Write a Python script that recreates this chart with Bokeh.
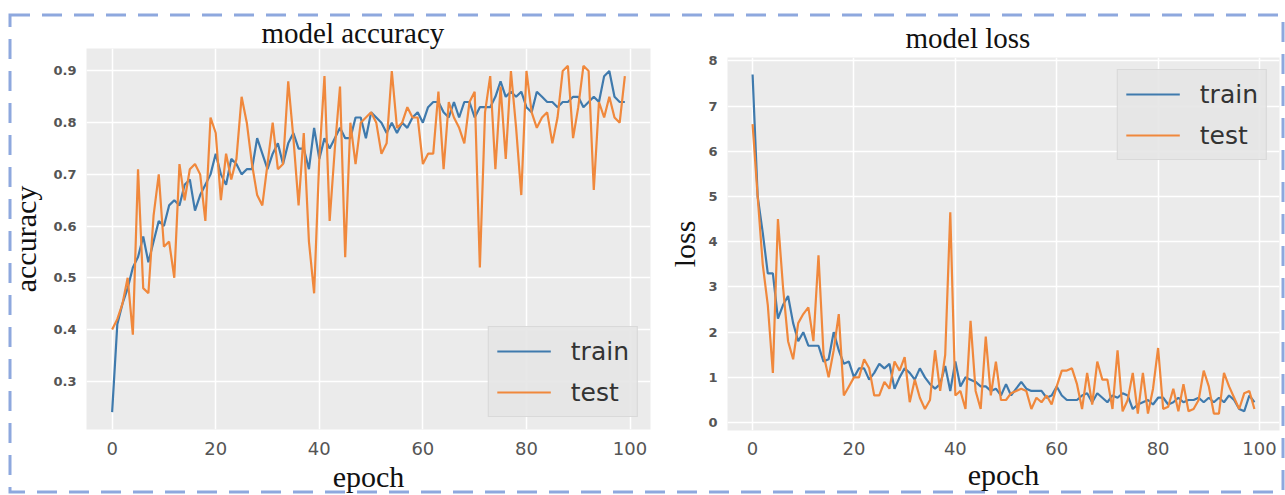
import urllib.parse
from bokeh.plotting import figure
from bokeh.layouts import row
from bokeh.models import Range1d, Legend, LegendItem, FixedTicker
from bokeh.embed import file_html
from bokeh.resources import INLINE

epochs = list(range(100))

acc_train = [0.24, 0.41, 0.45, 0.48, 0.52, 0.54, 0.58, 0.53, 0.57, 0.61,
             0.60, 0.64, 0.65, 0.64, 0.68, 0.69, 0.63, 0.66, 0.68, 0.70,
             0.74, 0.70, 0.68, 0.73, 0.72, 0.70, 0.71, 0.71, 0.77, 0.74,
             0.71, 0.74, 0.76, 0.72, 0.76, 0.78, 0.75, 0.75, 0.71, 0.79,
             0.73, 0.77, 0.75, 0.77, 0.79, 0.77, 0.77, 0.81, 0.81, 0.77,
             0.82, 0.81, 0.80, 0.78, 0.80, 0.78, 0.80, 0.79, 0.81, 0.82,
             0.80, 0.83, 0.84, 0.84, 0.82, 0.81, 0.84, 0.81, 0.84, 0.84,
             0.81, 0.83, 0.83, 0.83, 0.85, 0.88, 0.85, 0.86, 0.85, 0.86,
             0.83, 0.82, 0.86, 0.85, 0.84, 0.84, 0.83, 0.84, 0.84, 0.85,
             0.85, 0.83, 0.84, 0.85, 0.84, 0.89, 0.90, 0.85, 0.84, 0.84]

acc_test = [0.40, 0.42, 0.45, 0.50, 0.39, 0.71, 0.48, 0.47, 0.62, 0.70,
            0.56, 0.57, 0.50, 0.72, 0.65, 0.71, 0.72, 0.70, 0.61, 0.81,
            0.78, 0.65, 0.74, 0.69, 0.73, 0.85, 0.80, 0.72, 0.66, 0.64,
            0.72, 0.80, 0.71, 0.72, 0.88, 0.77, 0.64, 0.78, 0.57, 0.47,
            0.73, 0.89, 0.61, 0.75, 0.87, 0.54, 0.80, 0.72, 0.80, 0.81,
            0.82, 0.80, 0.74, 0.76, 0.90, 0.79, 0.80, 0.83, 0.81, 0.81,
            0.72, 0.74, 0.74, 0.86, 0.71, 0.84, 0.81, 0.79, 0.76, 0.84,
            0.86, 0.52, 0.82, 0.89, 0.71, 0.87, 0.73, 0.90, 0.79, 0.66,
            0.90, 0.82, 0.79, 0.81, 0.82, 0.76, 0.81, 0.90, 0.91, 0.77,
            0.83, 0.91, 0.90, 0.67, 0.84, 0.81, 0.85, 0.81, 0.80, 0.89]

loss_train = [7.7, 5.0, 4.2, 3.3, 3.3, 2.3, 2.6, 2.8, 2.2, 1.8,
              2.0, 1.7, 1.7, 1.7, 1.35, 1.4, 2.0, 1.6, 1.3, 1.35,
              1.0, 1.2, 1.2, 0.95, 1.1, 1.3, 1.2, 1.3, 0.75, 1.0,
              1.2, 1.1, 0.95, 1.2, 1.0, 0.85, 0.75, 0.85, 1.25, 0.7,
              1.35, 0.8, 1.0, 0.95, 0.9, 0.8, 0.8, 0.7, 0.75, 0.6,
              0.85, 0.6, 0.75, 0.9, 0.75, 0.7, 0.7, 0.7, 0.55, 0.6,
              0.8, 0.6, 0.5, 0.5, 0.5, 0.6, 0.65, 0.45, 0.65, 0.55,
              0.45, 0.6, 0.55, 0.65, 0.6, 0.3, 0.4, 0.45, 0.5, 0.4,
              0.55, 0.55, 0.4, 0.45, 0.55, 0.45, 0.5, 0.5, 0.55, 0.45,
              0.55, 0.45, 0.55, 0.45, 0.6, 0.5, 0.3, 0.25, 0.6, 0.45]

loss_test = [6.6, 5.0, 3.5, 2.6, 1.1, 4.5, 3.0, 1.8, 1.4, 2.2,
             2.4, 2.55, 1.8, 3.7, 1.5, 1.0, 1.6, 2.4, 0.6, 0.8,
             1.0, 1.0, 1.4, 1.2, 0.6, 0.6, 0.9, 0.75, 1.35, 1.15,
             1.45, 0.45, 0.95, 0.55, 0.3, 0.5, 1.6, 0.7, 1.5, 4.65,
             0.6, 0.7, 0.3, 2.25, 0.7, 0.3, 1.9, 0.6, 1.35, 0.5,
             0.5, 0.65, 0.7, 0.75, 0.7, 0.3, 0.55, 0.45, 0.6, 0.4,
             0.8, 1.15, 1.15, 1.2, 0.85, 0.3, 1.1, 0.4, 1.35, 0.95,
             0.95, 0.3, 1.6, 0.25, 0.5, 1.1, 0.2, 1.1, 0.2, 0.75,
             1.65, 0.3, 0.35, 0.75, 0.25, 0.85, 0.25, 0.3, 0.5, 1.15,
             0.8, 0.2, 0.2, 1.1, 0.8, 0.55, 0.3, 0.65, 0.7, 0.3]

epoch_ticks = [0, 20, 40, 60, 80, 100]
acc_ticks = [0.3, 0.4, 0.5, 0.6, 0.7, 0.8, 0.9]
loss_ticks = [0, 1, 2, 3, 4, 5, 6, 7, 8]

TRAIN_COLOR = "#3f7aad"
TEST_COLOR = "#f0883c"


def padded(lo, hi, frac=0.05):
    d = (hi - lo) * frac
    return lo - d, hi + d


def make_fig(title, ylabel, train, test, yticks, width, height, borders,
             legend_loc, title_offset, title_standoff, ylabel_standoff,
             xtick_standoff, xlabel_standoff):
    xlo, xhi = padded(min(epochs), max(epochs))
    ylo, yhi = padded(min(min(train), min(test)), max(max(train), max(test)))
    p = figure(width=width, height=height, output_backend="svg",
               toolbar_location=None,
               x_range=Range1d(xlo, xhi), y_range=Range1d(ylo, yhi),
               min_border_left=borders[0], min_border_right=borders[1],
               min_border_top=borders[2], min_border_bottom=borders[3])
    p.frame_align = False
    p.border_fill_alpha = 0
    p.background_fill_color = "#ebebeb"
    p.outline_line_color = None

    p.title.text = title
    p.title.text_font = "Liberation Serif"
    p.title.text_font_size = "29px"
    p.title.text_font_style = "normal"
    p.title.text_color = "#111111"
    p.title.text_line_height = 1.0
    p.title.align = "left"
    p.title.offset = title_offset
    p.title.standoff = title_standoff

    for ax in (p.xaxis[0], p.yaxis[0]):
        ax.axis_line_color = None
        ax.major_tick_line_color = None
        ax.minor_tick_line_color = None
        ax.major_tick_out = 0
        ax.major_tick_in = 0
        ax.minor_tick_out = 0
        ax.minor_tick_in = 0
        ax.axis_label_text_font = "Liberation Serif"
        ax.axis_label_text_font_size = "30px"
        ax.axis_label_text_font_style = "normal"
        ax.axis_label_text_color = "#111111"
        ax.axis_label_text_line_height = 1.0
        ax.major_label_text_font = "DejaVu Sans"
        ax.major_label_text_color = "#555555"
        ax.major_label_text_line_height = 1.0

    p.xaxis.ticker = FixedTicker(ticks=epoch_ticks)
    p.xaxis.axis_label = "epoch"
    p.xaxis.major_label_text_font_size = "18px"
    p.xaxis.major_label_standoff = xtick_standoff
    p.xaxis.axis_label_standoff = xlabel_standoff

    p.yaxis.ticker = FixedTicker(ticks=yticks)
    p.yaxis.axis_label = ylabel
    p.yaxis.major_label_text_font_size = "13px"
    p.yaxis.major_label_text_font_style = "bold"
    p.yaxis.major_label_standoff = 10
    p.yaxis.axis_label_standoff = ylabel_standoff

    p.grid.grid_line_color = "white"
    p.grid.grid_line_width = 1.5

    r1 = p.line(epochs, train, line_color=TRAIN_COLOR, line_width=2.2)
    r2 = p.line(epochs, test, line_color=TEST_COLOR, line_width=2.2)

    legend = Legend(items=[LegendItem(label="train", renderers=[r1]),
                           LegendItem(label="test", renderers=[r2])],
                    location=legend_loc)
    legend.label_text_font = "DejaVu Sans"
    legend.label_text_font_size = "25px"
    legend.label_text_color = "#333333"
    legend.glyph_width = 54
    legend.glyph_height = 32
    legend.label_height = 32
    legend.spacing = 9
    legend.padding = 8
    legend.margin = 12
    legend.label_standoff = 20
    legend.background_fill_color = "#e6e6e6"
    legend.background_fill_alpha = 0.9
    legend.border_line_color = "#cccccc"
    legend.border_line_width = 1.5
    p.add_layout(legend)
    return p


p1 = make_fig("model accuracy", "accuracy", acc_train, acc_test, acc_ticks,
              660, 495, (86, 10, 48, 66), "bottom_right", 175, 0, 8, 12, 2)
p2 = make_fig("model loss", "loss", loss_train, loss_test, loss_ticks,
              625, 495, (67, 6, 57, 65), "top_right", 178, 8, 4, 11, 0)

svg = ("<svg xmlns='http://www.w3.org/2000/svg' width='1285' height='495'>"
       "<rect x='10' y='15' width='1273' height='477' fill='none' "
       "stroke='#8ea8de' stroke-width='3' stroke-dasharray='20 12'/></svg>")
bg = "url(\"data:image/svg+xml," + urllib.parse.quote(svg) + "\")"

layout = row(p1, p2, styles={"background-image": bg,
                             "background-repeat": "no-repeat"})

open("out.html", "w").write(file_html(layout, INLINE))
